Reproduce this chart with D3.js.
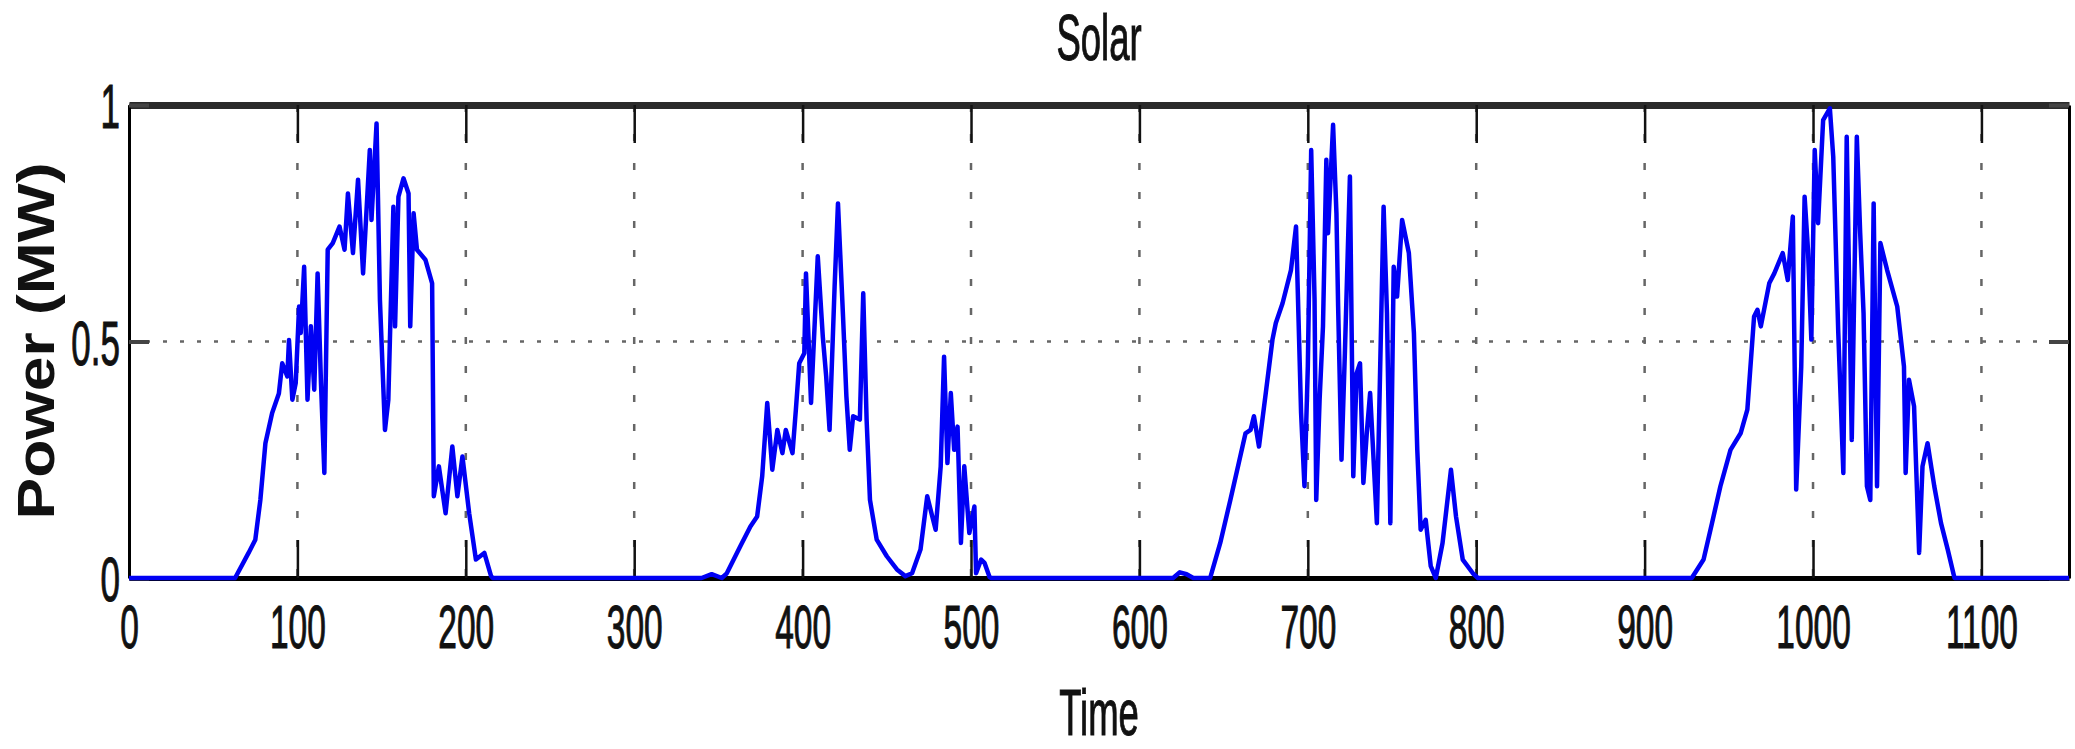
<!DOCTYPE html>
<html>
<head>
<meta charset="utf-8">
<script src="https://cdn.jsdelivr.net/npm/d3@7"></script>
<style>
  body { margin: 0; background: #fff; }
  text { font-family: "Liberation Sans", Arial, sans-serif; fill: #111; }
  .heavy { stroke: #111; stroke-width: 0.6px; }
</style>
</head>
<body>
<svg id="chart" width="2075" height="749"></svg>
<script>
// tick values and labels
const xTicks = [0, 100, 200, 300, 400, 500, 600, 700, 800, 900, 1000, 1100];
const yTicks = [0, 0.5, 1];
const yTickLabels = ["0", "0.5", "1"];

// solar power (MW) per day, time in samples
const day1Time = [0, 63, 71, 75, 78, 81, 85, 89, 91, 94, 95, 97, 99, 101, 102, 104, 106, 108, 110, 112, 114, 116, 118, 121, 125, 128, 130, 133, 136, 139, 143, 144, 147, 149, 152, 154, 157, 158, 160, 163, 166, 167, 169, 171, 176, 180, 181, 184, 188, 192, 195, 198, 202, 206, 211, 215];
const day1Power = [0, 0, 0.053, 0.081, 0.165, 0.285, 0.349, 0.39, 0.454, 0.426, 0.503, 0.377, 0.412, 0.574, 0.518, 0.658, 0.377, 0.532, 0.398, 0.644, 0.412, 0.222, 0.694, 0.708, 0.743, 0.694, 0.813, 0.687, 0.842, 0.644, 0.905, 0.757, 0.961, 0.588, 0.313, 0.377, 0.785, 0.532, 0.806, 0.845, 0.813, 0.532, 0.771, 0.694, 0.673, 0.623, 0.173, 0.236, 0.137, 0.278, 0.173, 0.257, 0.137, 0.039, 0.053, 0.004];

const day2Time = [216, 340, 346, 352, 355, 363, 369, 373, 376, 379, 382, 385, 388, 390, 394, 396, 398, 401, 402, 405, 409, 412, 414, 416, 419, 421, 424, 426, 428, 430, 434, 436, 438, 440, 444, 450, 456, 461, 465, 470, 474, 477, 479, 482, 484, 486, 488, 490, 492, 494, 496, 499, 502, 503, 506, 508, 511];
const day2Power = [0, 0, 0.008, 0, 0.01, 0.067, 0.109, 0.13, 0.215, 0.37, 0.229, 0.313, 0.264, 0.313, 0.264, 0.356, 0.454, 0.475, 0.644, 0.37, 0.68, 0.51, 0.426, 0.313, 0.616, 0.792, 0.553, 0.384, 0.271, 0.342, 0.335, 0.602, 0.335, 0.165, 0.081, 0.046, 0.018, 0.004, 0.01, 0.06, 0.173, 0.13, 0.102, 0.236, 0.468, 0.243, 0.391, 0.271, 0.32, 0.074, 0.236, 0.095, 0.151, 0.01, 0.039, 0.032, 0.002];

const day3Time = [512, 620, 624, 628, 632, 642, 648, 654, 659, 663, 666, 668, 671, 675, 679, 681, 685, 690, 693, 696, 698, 700, 702, 704, 705, 707, 709, 711, 712, 715, 717, 718, 720, 722, 725, 727, 729, 731, 733, 735, 737, 741, 745, 747, 749, 751, 753, 756, 760, 763, 765, 767, 770, 773, 776, 780, 785, 788, 792, 798, 801];
const day3Power = [0, 0, 0.012, 0.008, 0, 0, 0.074, 0.165, 0.243, 0.306, 0.313, 0.342, 0.278, 0.39, 0.504, 0.539, 0.581, 0.651, 0.743, 0.349, 0.194, 0.447, 0.905, 0.588, 0.165, 0.377, 0.532, 0.884, 0.729, 0.958, 0.771, 0.574, 0.25, 0.475, 0.849, 0.215, 0.433, 0.454, 0.201, 0.306, 0.391, 0.116, 0.785, 0.56, 0.116, 0.658, 0.595, 0.757, 0.687, 0.518, 0.271, 0.102, 0.123, 0.025, 0, 0.074, 0.229, 0.13, 0.039, 0.01, 0];

const day4Time = [802, 928, 935, 940, 945, 951, 957, 961, 965, 967, 969, 974, 977, 982, 985, 988, 990, 993, 995, 997, 999, 1001, 1003, 1006, 1010, 1012, 1015, 1018, 1020, 1023, 1026, 1028, 1030, 1032, 1034, 1036, 1038, 1040, 1044, 1050, 1054, 1055, 1057, 1060, 1063, 1065, 1068, 1072, 1076, 1080, 1084, 1152];
const day4Power = [0, 0, 0.039, 0.116, 0.194, 0.271, 0.306, 0.356, 0.553, 0.567, 0.532, 0.623, 0.644, 0.687, 0.63, 0.764, 0.187, 0.447, 0.806, 0.694, 0.504, 0.905, 0.75, 0.968, 0.993, 0.891, 0.518, 0.222, 0.933, 0.292, 0.933, 0.729, 0.56, 0.194, 0.165, 0.792, 0.194, 0.708, 0.651, 0.574, 0.447, 0.222, 0.419, 0.363, 0.053, 0.236, 0.285, 0.194, 0.116, 0.06, 0, 0];

let svg = d3.select("#chart")

let plotLeft = 129, plotRight = 2069, plotTop = 105, plotBottom = 578;
let stretch = 1.8;   // the original figure is stretched vertically

let xScale = d3.scaleLinear().domain([0, 1152]).range([plotLeft, plotRight])
let yScale = d3.scaleLinear().domain([0, 1]).range([plotBottom, plotTop])

let series = [];
[[day1Time, day1Power], [day2Time, day2Power], [day3Time, day3Power], [day4Time, day4Power]]
    .forEach(([t, p]) => {
        t.forEach((d, i) => series.push({ t: d, p: p[i] }))
    })

// grid (dotted)
let grid = svg.append("g")
grid.selectAll("line.vgrid")
    .data(xTicks.filter(d => d > 0))
    .enter().append("line")
    .attr("x1", d => xScale(d)).attr("x2", d => xScale(d))
    .attr("y1", plotTop).attr("y2", plotBottom)
    .attr("stroke", "#666").attr("stroke-width", 2.5)
    .attr("stroke-dasharray", "7,22")
grid.selectAll("line.hgrid")
    .data(yTicks.filter(d => d > 0 && d < 1))
    .enter().append("line")
    .attr("x1", plotLeft).attr("x2", plotRight)
    .attr("y1", d => yScale(d)).attr("y2", d => yScale(d))
    .attr("stroke", "#666").attr("stroke-width", 2.5)
    .attr("stroke-dasharray", "4,13")

// axes
let xAxis = d3.axisBottom(xScale).tickValues(xTicks).tickSizeInner(-38).tickSizeOuter(0)
    .tickFormat(d3.format("d"))
let xAxisGroup = svg.append("g").attr("transform", `translate(0,${plotBottom})`).call(xAxis)
xAxisGroup.select(".domain").attr("stroke", "#000").attr("stroke-width", 5)
xAxisGroup.selectAll(".tick line").attr("stroke", "#111").attr("stroke-width", 2.5)
xAxisGroup.selectAll(".tick text")
    .attr("y", null).attr("dy", null)
    .attr("class", "heavy")
    .attr("font-size", 33.5)
    .attr("fill", "#111")
    .attr("transform", `translate(0,70) scale(1,${stretch})`)

let topAxis = d3.axisTop(xScale).tickValues(xTicks).tickSizeInner(-38).tickSizeOuter(0).tickFormat("")
let topAxisGroup = svg.append("g").attr("transform", `translate(0,${plotTop})`).call(topAxis)
topAxisGroup.select(".domain").attr("stroke", "#2a2a2a").attr("stroke-width", 7)
topAxisGroup.selectAll(".tick line").attr("stroke", "#111").attr("stroke-width", 2.5)

let yAxis = d3.axisLeft(yScale).tickValues(yTicks).tickSizeInner(-20).tickSizeOuter(0)
    .tickFormat((d, i) => yTickLabels[i])
let yAxisGroup = svg.append("g").attr("transform", `translate(${plotLeft},0)`).call(yAxis)
yAxisGroup.select(".domain").attr("stroke", "#000").attr("stroke-width", 3)
yAxisGroup.selectAll(".tick line").attr("stroke", "#444").attr("stroke-width", 4)
yAxisGroup.selectAll(".tick text")
    .attr("x", null).attr("dy", null)
    .attr("class", "heavy")
    .attr("font-size", 35)
    .attr("fill", "#111")
    .attr("transform", `translate(-9,${0.358 * 35 * stretch}) scale(1,${stretch})`)

let rightAxis = d3.axisRight(yScale).tickValues(yTicks).tickSizeInner(-20).tickSizeOuter(0).tickFormat("")
let rightAxisGroup = svg.append("g").attr("transform", `translate(${plotRight},0)`).call(rightAxis)
rightAxisGroup.select(".domain").attr("stroke", "#000").attr("stroke-width", 3)
rightAxisGroup.selectAll(".tick line").attr("stroke", "#444").attr("stroke-width", 4)

// data line
let line = d3.line()
    .x(d => xScale(d.t))
    .y(d => yScale(d.p))

svg.append("path")
    .datum(series)
    .attr("d", line)
    .attr("fill", "none")
    .attr("stroke", "#0000f4")
    .attr("stroke-width", 4.5)
    .attr("stroke-linejoin", "round")

// titles
let midX = (plotLeft + plotRight) / 2

svg.append("text")
    .attr("class", "heavy")
    .attr("text-anchor", "middle")
    .attr("font-size", 36.5)
    .attr("transform", `translate(${midX},60) scale(1,${stretch})`)
    .text("Solar")

svg.append("text")
    .attr("class", "heavy")
    .attr("text-anchor", "middle")
    .attr("font-size", 36.5)
    .attr("transform", `translate(${midX},735) scale(1,${stretch})`)
    .text("Time")

svg.append("text")
    .attr("text-anchor", "middle")
    .attr("font-weight", "bold")
    .attr("font-size", 52)
    .attr("transform", `translate(54,341) scale(1,1.2) rotate(-90)`)
    .text("Power (MW)")
</script>
</body>
</html>
